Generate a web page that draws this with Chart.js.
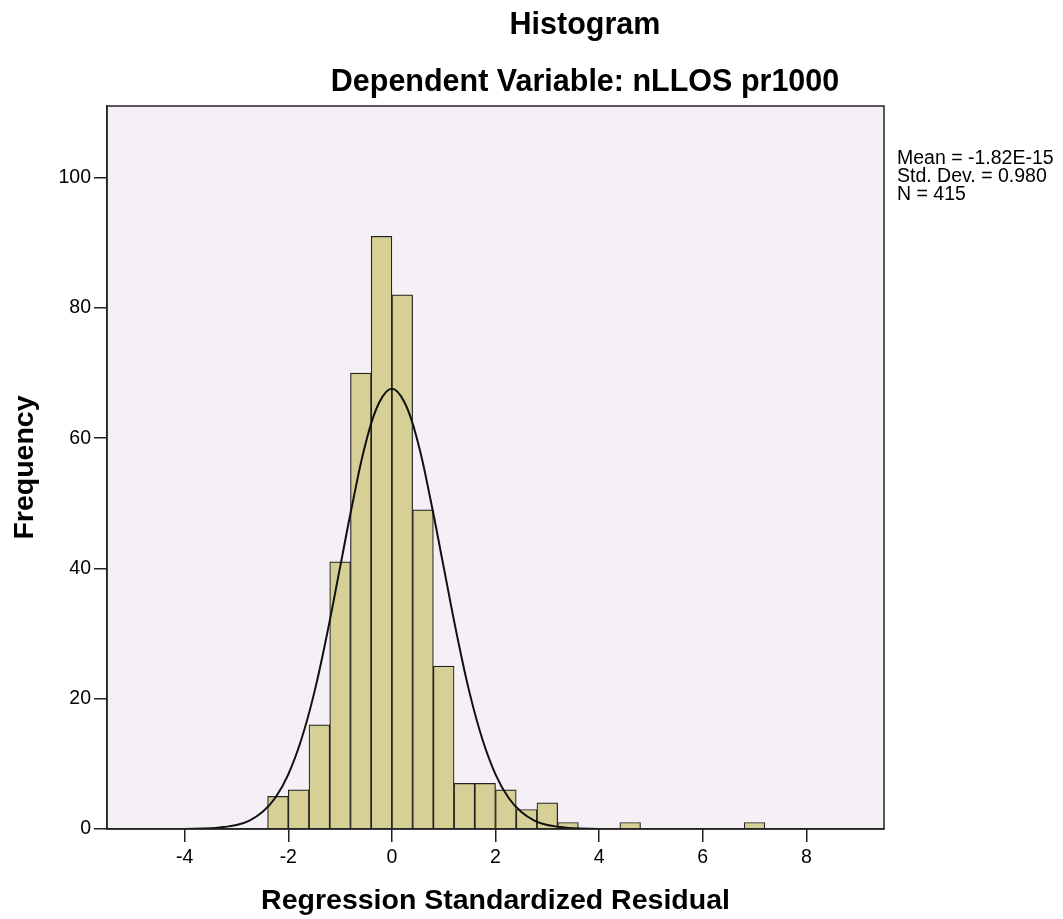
<!DOCTYPE html>
<html>
<head>
<meta charset="utf-8">
<script src="https://cdn.jsdelivr.net/npm/chart.js@4.4.1/dist/chart.umd.min.js"></script>
<style>
  html, body { margin: 0; padding: 0; background: #fff; }
  #wrap { width: 1063px; height: 919px; }
</style>
</head>
<body>
<div id="wrap"><canvas id="chart" width="1063" height="919"></canvas></div>
<script>
// histogram bins (centres, width 0.4) and counts
const binCenters = [-2.2, -1.8, -1.4, -1.0, -0.6, -0.2, 0.2, 0.6, 1.0, 1.4, 1.8, 2.2, 2.6, 3.0, 3.4, 4.6, 7.0];
const binCounts  = [5, 6, 16, 41, 70, 91, 82, 49, 25, 7, 7, 6, 3, 4, 1, 1, 1];

// normal curve
const curveX = [-4, -3.5, -3.25, -3, -2.75, -2.5, -2.25, -2, -1.75, -1.5, -1.25, -1, -0.75, -0.5, -0.25, 0,
                0.25, 0.5, 0.75, 1, 1.25, 1.5, 1.75, 2, 2.25, 2.5, 2.75, 3, 3.25, 3.5, 4];
const curveY = [0.01, 0.1, 0.3, 0.6, 1.3, 2.6, 4.8, 8.4, 13.7, 20.9, 30, 40.2, 50.4, 59.4, 65.4, 67.6,
                65.4, 59.4, 50.4, 40.2, 30, 20.9, 13.7, 8.4, 4.8, 2.6, 1.3, 0.6, 0.3, 0.1, 0.01];

const xTicks = [-4, -2, 0, 2, 4, 6, 8];
const yTicks = [0, 20, 40, 60, 80, 100];

const titleText = 'Histogram';
const subtitleText = 'Dependent Variable: nLLOS pr1000';
const statsLines = ['Mean = -1.82E-15', 'Std. Dev. = 0.980', 'N = 415'];

const FONT = "Arial, 'Liberation Sans', sans-serif";

// plot background, box, titles and stats text
const decor = {
  id: 'decor',
  beforeDraw(chart) {
    const { ctx, chartArea: a } = chart;
    ctx.save();
    ctx.fillStyle = '#F5F0F5';
    ctx.fillRect(a.left, a.top, a.right - a.left, a.bottom - a.top);
    ctx.restore();
  },
  afterDraw(chart) {
    const { ctx, chartArea: a } = chart;
    ctx.save();
    ctx.strokeStyle = '#222';
    ctx.lineWidth = 1.5;
    ctx.strokeRect(a.left, a.top, a.right - a.left, a.bottom - a.top);

    const cx = (a.left + chart.width) / 2;
    ctx.fillStyle = '#000';
    ctx.textAlign = 'center';
    ctx.textBaseline = 'middle';
    ctx.font = 'bold 30.5px ' + FONT;
    ctx.fillText(titleText, cx, 26);
    ctx.fillText(subtitleText, cx, 83);

    ctx.textAlign = 'left';
    ctx.font = '19.5px ' + FONT;
    statsLines.forEach((s, i) => ctx.fillText(s, a.right + 13, 159 + i * 17.8));
    ctx.restore();
  }
};

const ctx = document.getElementById('chart').getContext('2d');
new Chart(ctx, {
  type: 'bar',
  data: {
    datasets: [
      {
        type: 'line',
        data: curveX.map((x, i) => ({ x: x, y: curveY[i] })),
        borderColor: '#111',
        borderWidth: 2,
        pointRadius: 0,
        tension: 0.4,
        fill: false,
        order: 0
      },
      {
        type: 'bar',
        data: binCenters.map((x, i) => ({ x: x, y: binCounts[i] })),
        backgroundColor: '#D6D096',
        borderColor: '#222',
        borderWidth: 1.2,
        barPercentage: 1,
        categoryPercentage: 1,
        order: 1
      }
    ]
  },
  options: {
    responsive: false,
    animation: false,
    layout: { padding: { top: 106, right: 179, left: 0, bottom: 0 } },
    plugins: { legend: { display: false }, tooltip: { enabled: false } },
    scales: {
      x: {
        type: 'linear',
        min: -5.5,
        max: 9.5,
        offset: false,
        afterBuildTicks: (axis) => { axis.ticks = xTicks.map(v => ({ value: v })); },
        afterFit: (axis) => { axis.height = 90; },
        grid: { offset: false, drawOnChartArea: false, drawTicks: true, tickLength: 13, color: '#222', lineWidth: 1.5 },
        border: { display: true, color: '#222', width: 1.5 },
        ticks: { color: '#000', font: { family: FONT, size: 19.5 }, padding: 4, maxRotation: 0 },
        title: { display: true, text: 'Regression Standardized Residual', color: '#000',
                 font: { family: FONT, size: 28.5, weight: 'bold' }, padding: { top: 0, bottom: 1 } }
      },
      y: {
        min: 0,
        max: 111,
        afterBuildTicks: (axis) => { axis.ticks = yTicks.map(v => ({ value: v })); },
        afterFit: (axis) => { axis.width = 107; },
        grid: { drawOnChartArea: false, drawTicks: true, tickLength: 13, color: '#222', lineWidth: 1.5 },
        border: { display: true, color: '#222', width: 1.5 },
        ticks: { color: '#000', font: { family: FONT, size: 19.5 }, padding: 3 },
        title: { display: true, text: 'Frequency', color: '#000',
                 font: { family: FONT, size: 28.5, weight: 'bold' }, padding: { top: 8, bottom: 0 } }
      }
    }
  },
  plugins: [decor]
});
</script>
</body>
</html>
